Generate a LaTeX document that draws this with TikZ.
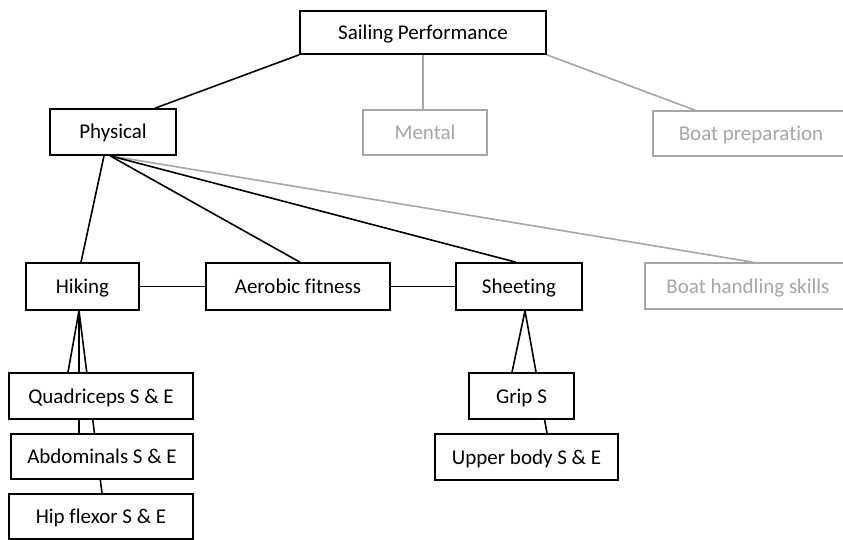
\documentclass[tikz,border=0pt]{standalone}
\usepackage{fontspec}
\setmainfont[Ligatures=NoCommon]{Carlito}
\usetikzlibrary{calc,backgrounds}
\definecolor{dimgray}{RGB}{166,166,166}
\tikzset{
  box/.style={draw=black, fill=white, line width=1.6pt, rectangle, inner sep=0pt,
    text height=18pt, text depth=4pt,
    font=\fontsize{21}{25}\selectfont, text=black},
  dimbox/.style={box, draw=dimgray, text=dimgray},
  link/.style={draw=black, line width=1.6pt},
  dimlink/.style={draw=dimgray, line width=1.6pt},
}
\begin{document}
\begin{tikzpicture}[x=1pt, y=-1pt]
\useasboundingbox (0,0) rectangle (843,540);

% top level
\node[box, minimum width=246pt, minimum height=43pt] (sail) at (423,32.5) {Sailing Performance};

% second level
\node[box, minimum width=126pt, minimum height=46pt] (phys) at (113,132) {Physical};
\node[dimbox, minimum width=124pt, minimum height=45pt] (men) at (425,132.5) {Mental};
\node[dimbox, minimum width=196pt, minimum height=45pt] (bp) at (751,133.5) {Boat preparation};

% physical components
\node[box, minimum width=113pt, minimum height=47pt] (hik) at (82.5,286.5) {Hiking};
\node[box, minimum width=184pt, minimum height=47pt] (aer) at (298,286.5) {Aerobic fitness};
\node[box, minimum width=126pt, minimum height=47pt] (shee) at (519,286.5) {Sheeting};
\node[dimbox, minimum width=206pt, minimum height=46pt] (bhs) at (748,286) {Boat handling skills};

% hiking muscles
\node[box, minimum width=184pt, minimum height=46pt] (quad) at (101,396) {Quadriceps S \& E};
\node[box, minimum width=182pt, minimum height=45pt] (abd) at (102,456.5) {Abdominals S \& E};
\node[box, minimum width=184pt, minimum height=45pt] (hip) at (101,516.5) {Hip flexor S \& E};

% sheeting muscles
\node[box, minimum width=105pt, minimum height=46pt] (grip) at (521.5,396) {Grip S};
\node[box, minimum width=183pt, minimum height=46pt] (upper) at (526.5,457) {Upper body S \& E};

% connectors run behind the boxes
\begin{scope}[on background layer]
  \fill[white] (0,0) rectangle (843,540);
  \coordinate (physfoot) at ($(phys.south)+(-3,0)$);
  \coordinate (hikfoot) at ($(hik.south)+(-3.5,0)$);
  \coordinate (sheefoot) at ($(shee.south)+(6,0)$);

  \draw[link] (sail.south west) -- ($(phys.north)+(42,0)$);
  \draw[dimlink] (sail.south) -- (sail.south |- men.north);
  \draw[dimlink] (sail.south east) -- ($(bp.north)+(-56,0)$);

  \draw[dimlink] (physfoot) -- ($(bhs.north)+(5,0)$);
  \draw[link] ($(phys.south)+(-9,0)$) -- ($(hik.north)+(-1.5,0)$);
  \draw[link] (physfoot) -- ($(aer.north)+(2,0)$);
  \draw[link] (physfoot) -- ($(shee.north)+(-3,0)$);

  \draw[link] (hik.east) -- (aer.west);
  \draw[link] (aer.east) -- (shee.west);

  \draw[link] (hikfoot) -- ($(quad.north)+(-33,0)$);
  \draw[link] (hikfoot) -- (hikfoot |- abd.north);
  \draw[link] (hikfoot) -- ($(hip.north)+(1,0)$);

  \draw[link] (sheefoot) -- ($(grip.north)+(-9.5,0)$);
  \draw[link] (sheefoot) -- ($(upper.north)+(20.5,0)$);
\end{scope}
\end{tikzpicture}
\end{document}
